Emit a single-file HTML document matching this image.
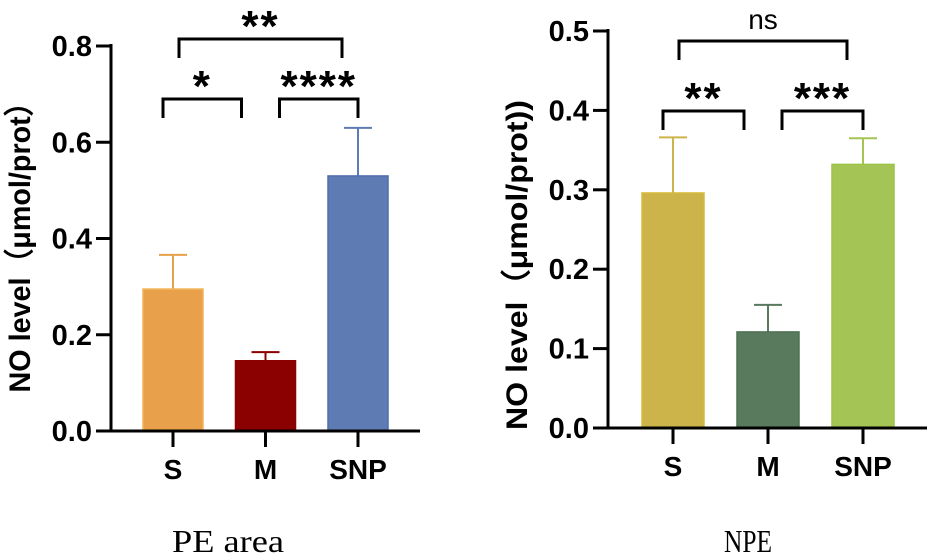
<!DOCTYPE html>
<html><head><meta charset="utf-8"><style>
html,body{margin:0;padding:0;background:#fff;}
svg{display:block;}
text{font-family:"Liberation Sans",Arial,sans-serif;}
</style></head><body>
<svg id="fig" width="933" height="558" viewBox="0 0 933 558" xmlns="http://www.w3.org/2000/svg"></svg>
<script>
const categories = ["S","M","SNP"];
const peValues = [0.295, 0.146, 0.53];
const peErrors = [0.071, 0.018, 0.10];
const peTicks = ["0.0","0.2","0.4","0.6","0.8"];
const peTickValues = [0,0.2,0.4,0.6,0.8];
const npeValues = [0.296, 0.121, 0.332];
const npeErrors = [0.070, 0.034, 0.033];
const npeTicks = ["0.0","0.1","0.2","0.3","0.4","0.5"];
const npeTickValues = [0,0.1,0.2,0.3,0.4,0.5];
const peSig = [["*",0,1,0],["****",1,2,0],["**",0,2,1]];
const npeSig = [["**",0,1,0],["***",1,2,0],["ns",0,2,1]];

const NS="http://www.w3.org/2000/svg";
const svg=document.getElementById('fig');
function mk(tag,attrs,parent){const e=document.createElementNS(NS,tag);for(const k in attrs)e.setAttribute(k,attrs[k]);(parent||svg).appendChild(e);return e;}

function chart(cfg){
  const g=mk('g',{});
  
  
  const y=v=>cfg.y0-(v/cfg.ymax)*(cfg.y0-cfg.ytop);
  cfg.values.forEach((v,i)=>{
    const cx=cfg.centers[i];
    const top=y(v), et=y(v+cfg.errors[i]);
    const ln=mk('line',{x1:cx,x2:cx,y1:top,y2:et,stroke:cfg.colors[i],'stroke-width':2},g);
    
    
    const cap=mk('line',{x1:cx-14,x2:cx+14,y1:et,y2:et,stroke:cfg.colors[i],'stroke-width':2},g);
    
    
    const r=mk('rect',{x:cx-cfg.bw/2,y:top,width:cfg.bw,height:cfg.y0-top,fill:cfg.colors[i],stroke:cfg.edges[i],'stroke-width':1.5},g);
    
    
  });
  const ya=mk('line',{x1:cfg.ax,x2:cfg.ax,y1:cfg.ytop-2,y2:cfg.y0+1.5,stroke:'#000','stroke-width':3},g);
  
  
  const xa=mk('line',{x1:cfg.ax-15,x2:cfg.xend,y1:cfg.y0,y2:cfg.y0,stroke:'#000','stroke-width':3},g);
  
  
  cfg.tickValues.forEach((tv,i)=>{
    const ty=y(tv);
    const t=mk('line',{x1:cfg.ax-15,x2:cfg.ax,y1:ty,y2:ty,stroke:'#000','stroke-width':3},g);
    
    
    const l=mk('text',{x:cfg.ax-19,y:ty+10,'text-anchor':'end','font-size':29,'font-weight':'bold'},g);
    l.textContent=cfg.ticks[i];
    
    
  });
  categories.forEach((c,i)=>{
    const cx=cfg.centers[i];
    const t=mk('line',{x1:cx,x2:cx,y1:cfg.y0,y2:cfg.y0+16,stroke:'#000','stroke-width':3},g);
    
    
    const l=mk('text',{x:cx,y:cfg.y0+48,'text-anchor':'middle','font-size':28,'font-weight':'bold'},g);
    l.textContent=c;
    
    
  });
  const yt=mk('text',{x:0,y:0,'text-anchor':'middle','font-size':30,'font-weight':'bold',textLength:cfg.titleLen,lengthAdjust:'spacingAndGlyphs',transform:`translate(${cfg.titleX},${cfg.titleY}) rotate(-90)`},g);
  yt.textContent=cfg.ytitle;
  
  
  cfg.sig.forEach(s=>{
    const [lab,a,b,lvl]=s;
    const by=lvl?cfg.topBr:cfg.lowBr;
    const xa1 = lvl?cfg.centers[a]+6:(a===0?cfg.centers[a]-10:cfg.centers[a]+14);
    const xa2 = lvl?cfg.centers[b]-16:(a===0?cfg.centers[b]-24:cfg.centers[b]);
    const p=mk('path',{d:`M${xa1},${by+19} V${by} H${xa2} V${by+19}`,fill:'none',stroke:'#000','stroke-width':3},g);
    
    
    const ns=lab==='ns';
    const t=mk('text',{x:(xa1+xa2)/2,y:ns?by-12:by+2,'text-anchor':'middle','font-size':ns?28:44,'font-weight':ns?'normal':'bold','letter-spacing':ns?0:2},g);
    t.textContent=lab;
    
    
  });
  const cap=mk('text',{x:cfg.capX,y:552,'text-anchor':'middle','font-size':32,style:'font-family:"Liberation Serif",serif',textLength:cfg.capW,lengthAdjust:'spacingAndGlyphs'},g);
  cap.textContent=cfg.caption;
  
  
}

chart({name:'pe-area-chart',values:peValues,errors:peErrors,ticks:peTicks,tickValues:peTickValues,sig:peSig,
  ymax:0.8,y0:431,ytop:46,ax:111,xend:420,centers:[173,265.5,358],bw:60,
  colors:['#E8A04A','#8B0000','#5F7BB3'],edges:['#F2B45A','#8B0000','#4F6EAE'],
  ytitle:'NO level（μmol/prot）',titleX:30,titleY:240,titleLen:305,lowBr:99,topBr:39,caption:'PE area',capX:228,capW:112});
chart({name:'npe-chart',values:npeValues,errors:npeErrors,ticks:npeTicks,tickValues:npeTickValues,sig:npeSig,
  ymax:0.5,y0:428,ytop:31,ax:608,xend:927,centers:[673,768,863],bw:62,
  colors:['#CDB44A','#5A7A5E','#A5C456'],edges:['#D8BA3A','#4F7055','#9CC447'],
  ytitle:'NO level（μmol/prot))',titleX:527,titleY:265,titleLen:330,lowBr:111,topBr:41,caption:'NPE',capX:748,capW:48});
</script>
</body></html>
